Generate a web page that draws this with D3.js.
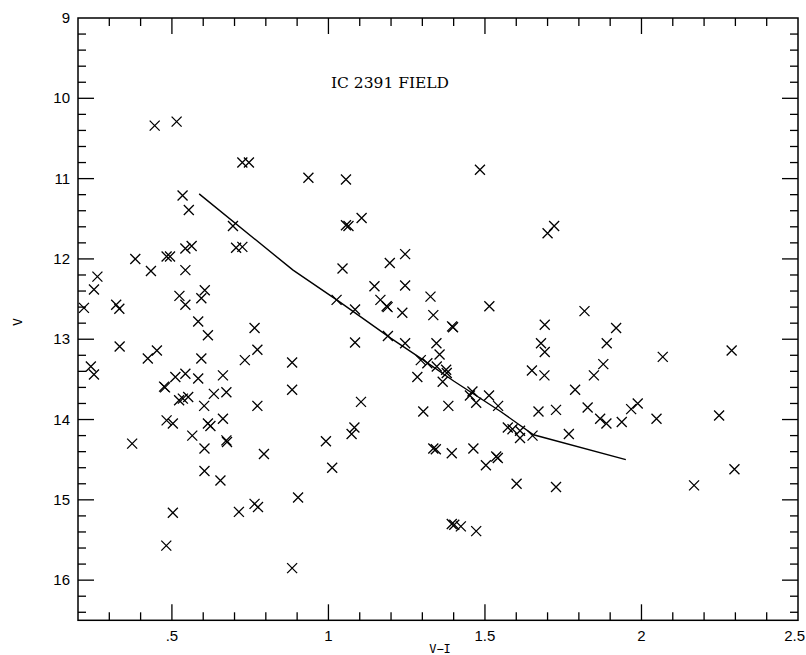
<!DOCTYPE html>
<html><head><meta charset="utf-8">
<script src="https://cdn.jsdelivr.net/npm/d3@7"></script>
<style>body{margin:0;background:#fff}svg{display:block}</style>
</head><body>
<svg id="c" width="806" height="655"></svg>
<script>
const vi = [0.445,0.515,0.725,0.746,0.936,0.534,0.554,0.695,0.705,0.725,0.543,0.563,0.383,0.483,0.494,0.433,0.543,0.262,0.251,0.219,0.322,0.332,0.524,0.543,0.605,0.594,0.584,0.615,0.764,0.333,0.423,0.452,0.594,0.733,0.773,0.884,0.241,0.251,0.475,0.478,0.511,0.543,0.584,0.663,0.634,0.674,0.523,0.535,0.552,0.603,0.773,0.884,0.483,0.503,0.615,0.623,0.663,0.565,0.674,0.676,0.604,0.373,0.794,0.604,0.655,0.903,0.503,0.714,0.764,0.775,0.482,0.884,
1.056,1.484,1.056,1.064,1.106,1.700,1.721,1.045,1.196,1.245,1.147,1.245,1.026,1.085,1.166,1.186,1.189,1.236,1.326,1.335,1.395,1.398,1.514,1.691,1.085,1.19,1.245,1.345,1.679,1.691,1.355,1.295,1.316,1.346,1.376,1.378,1.284,1.365,1.650,1.690,1.104,1.303,1.383,1.460,1.452,1.472,1.513,1.542,1.671,1.727,1.573,1.588,1.612,1.612,1.652,1.083,1.074,0.992,1.012,1.335,1.343,1.394,1.463,1.503,1.536,1.541,1.601,1.727,1.394,1.402,1.423,1.472,
1.889,2.068,2.288,1.878,1.848,1.788,1.828,1.868,1.888,1.937,1.967,1.988,2.048,2.248,1.768,2.297,2.168,1.818,1.919];
const vmag = [10.34,10.29,10.80,10.80,10.99,11.21,11.39,11.59,11.86,11.85,11.87,11.84,12.00,11.97,11.97,12.15,12.14,12.22,12.38,12.61,12.57,12.62,12.46,12.57,12.39,12.49,12.78,12.95,12.86,13.09,13.24,13.14,13.24,13.26,13.13,13.29,13.34,13.44,13.59,13.60,13.47,13.43,13.49,13.45,13.68,13.66,13.76,13.74,13.72,13.83,13.83,13.63,14.01,14.05,14.05,14.08,13.99,14.20,14.26,14.28,14.36,14.30,14.43,14.64,14.76,14.97,15.16,15.15,15.05,15.09,15.57,15.85,
11.01,10.89,11.58,11.59,11.49,11.68,11.59,12.12,12.05,11.94,12.34,12.33,12.51,12.63,12.51,12.59,12.60,12.67,12.47,12.70,12.84,12.85,12.59,12.82,13.04,12.96,13.05,13.05,13.05,13.16,13.19,13.26,13.30,13.34,13.38,13.42,13.47,13.53,13.39,13.45,13.78,13.90,13.83,13.65,13.70,13.79,13.70,13.83,13.90,13.88,14.10,14.12,14.14,14.23,14.20,14.10,14.18,14.27,14.60,14.36,14.37,14.42,14.36,14.57,14.46,14.48,14.80,14.84,15.30,15.31,15.33,15.39,
13.05,13.22,13.14,13.31,13.45,13.63,13.85,13.99,14.05,14.03,13.87,13.80,13.99,13.95,14.18,14.62,14.82,12.65,12.86];
const curveVI = [0.587,0.887,1.03,1.20,1.30,1.40,1.55,1.655,1.95];
const curveV  = [11.19,12.14,12.52,12.99,13.25,13.52,13.90,14.19,14.50];
const xTickVals = [0.5,1,1.5,2,2.5];
const xTickLabels = [".5","1","1.5","2","2.5"];
const yTickVals = [9,10,11,12,13,14,15,16];
const title = "IC 2391 FIELD";

const svg = d3.select("#c");
const L=78,R=798,T=18,B=620.3;
const x = d3.scaleLinear().domain([0.2,2.5]).range([L,R]);
const y = d3.scaleLinear().domain([9,16.5]).range([T,B]);

const g = svg.append("g");
g.append("rect").attr("x",L).attr("y",T).attr("width",R-L).attr("height",B-T)
 .attr("fill","none").attr("stroke","#000").attr("stroke-width",1.5);

const xMinor = d3.range(3,25).map(i=>i/10).filter(v=>v<2.5);
const yMinor = d3.range(46,83).map(i=>i/5).filter(v=>v>9&&v<16.5);
const isMajX = v=>Math.abs(v*2-Math.round(v*2))<1e-6;
const isMajY = v=>Math.abs(v-Math.round(v))<1e-6;
xMinor.forEach(v=>{
  const len = isMajX(v)?16:8;
  g.append("line").attr("x1",x(v)).attr("x2",x(v)).attr("y1",B).attr("y2",B-len).attr("stroke","#000").attr("stroke-width",1.3);
  g.append("line").attr("x1",x(v)).attr("x2",x(v)).attr("y1",T).attr("y2",T+len).attr("stroke","#000").attr("stroke-width",1.3);
});
yMinor.forEach(v=>{
  const len = isMajY(v)?16:8;
  g.append("line").attr("y1",y(v)).attr("y2",y(v)).attr("x1",L).attr("x2",L+len).attr("stroke","#000").attr("stroke-width",1.3);
  g.append("line").attr("y1",y(v)).attr("y2",y(v)).attr("x1",R).attr("x2",R-len).attr("stroke","#000").attr("stroke-width",1.3);
});
const font = "'Liberation Sans', Arial, sans-serif";
xTickVals.forEach((v,i)=>{
  const last = i===xTickVals.length-1;
  g.append("text").attr("x",last?805:x(v)).attr("y",641).attr("text-anchor",last?"end":"middle")
   .attr("font-family",font).attr("font-size",15).text(xTickLabels[i]);
});
yTickVals.forEach(v=>{
  g.append("text").attr("x",70).attr("y",y(v)+5).attr("text-anchor","end")
   .attr("font-family",font).attr("font-size",15).text(String(v));
});
g.append("text").attr("transform","translate(22,322) rotate(-90)").attr("text-anchor","middle")
 .attr("font-family","'DejaVu Sans Mono', monospace").attr("font-size",13).text("V");
g.append("text").attr("x",440).attr("y",653).attr("text-anchor","middle")
 .attr("font-family","'DejaVu Sans Mono', monospace").attr("font-size",12).text("V\u2212I");
g.append("text").attr("x",331).attr("y",88).attr("textLength",118).attr("lengthAdjust","spacingAndGlyphs")
 .attr("font-family","'DejaVu Serif', serif").attr("font-size",15).text(title);

const pts = curveVI.map((v,i)=>[v,curveV[i]]);
g.append("path").attr("d",d3.line().x(d=>x(d[0])).y(d=>y(d[1])).curve(d3.curveLinear)(pts))
 .attr("fill","none").attr("stroke","#000").attr("stroke-width",1.4);

const s=5;
const stars = vi.map((v,i)=>[v,vmag[i]]);
g.selectAll("path.star").data(stars).enter().append("path").attr("class","star")
 .attr("d",d=>{const cx=x(d[0]),cy=y(d[1]);return `M${cx-s},${cy-s}L${cx+s},${cy+s}M${cx-s},${cy+s}L${cx+s},${cy-s}`;})
 .attr("stroke","#000").attr("stroke-width",1.3).attr("fill","none");
</script>
</body></html>
